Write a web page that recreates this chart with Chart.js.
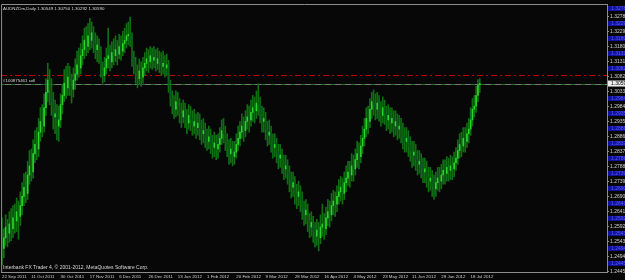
<!DOCTYPE html>
<html>
<head>
<meta charset="utf-8">
<script src="https://cdn.jsdelivr.net/npm/chart.js@4"></script>
<style>
  html, body { margin: 0; padding: 0; background: #000; }
  canvas { display: block; }
</style>
</head>
<body>
<canvas id="chart" width="625" height="280"></canvas>
<script>
// AUDNZDm daily bars (one entry per bar, oldest first)
const closes = [
  1.2520, 1.2555, 1.2590, 1.2570, 1.2600, 1.2585, 1.2620, 1.2610, 1.2640, 1.2625,
  1.2660, 1.2690, 1.2720, 1.2700, 1.2760, 1.2790, 1.2770, 1.2830, 1.2860, 1.2845,
  1.2900, 1.2935, 1.2920, 1.2980, 1.3030, 1.3070, 1.3040, 1.3000, 1.2950, 1.2960,
  1.2920, 1.2940, 1.2990, 1.3020, 1.3060, 1.3045, 1.3080, 1.3050, 1.3040, 1.3070,
  1.3090, 1.3120, 1.3110, 1.3150, 1.3170, 1.3200, 1.3180, 1.3215, 1.3200, 1.3225,
  1.3190, 1.3170, 1.3185, 1.3160, 1.3100, 1.3085, 1.3110, 1.3140, 1.3150, 1.3130,
  1.3160, 1.3150, 1.3170, 1.3155, 1.3180, 1.3165, 1.3190, 1.3200, 1.3215, 1.3220,
  1.3205, 1.3140, 1.3120, 1.3090, 1.3075, 1.3100, 1.3080, 1.3110, 1.3125, 1.3140,
  1.3130, 1.3150, 1.3135, 1.3145, 1.3125, 1.3140, 1.3130, 1.3115, 1.3125, 1.3110,
  1.3120, 1.3050, 1.3010, 1.2990, 1.2975, 1.3000, 1.2985, 1.2960, 1.2950, 1.2970,
  1.2945, 1.2930, 1.2955, 1.2940, 1.2920, 1.2935, 1.2915, 1.2930, 1.2910, 1.2895,
  1.2905, 1.2880, 1.2870, 1.2885, 1.2860, 1.2850, 1.2865, 1.2845, 1.2860, 1.2880,
  1.2905, 1.2895, 1.2870, 1.2850, 1.2830, 1.2845, 1.2820, 1.2835, 1.2860, 1.2880,
  1.2900, 1.2920, 1.2905, 1.2935, 1.2950, 1.2940, 1.2965, 1.2980, 1.2970, 1.2995,
  1.2990, 1.2960, 1.2935, 1.2945, 1.2910, 1.2890, 1.2900, 1.2870, 1.2850, 1.2860,
  1.2835, 1.2815, 1.2825, 1.2800, 1.2780, 1.2790, 1.2765, 1.2745, 1.2720, 1.2735,
  1.2700, 1.2690, 1.2705, 1.2680, 1.2650, 1.2630, 1.2645, 1.2610, 1.2590, 1.2605,
  1.2575, 1.2560, 1.2580, 1.2555, 1.2590, 1.2600, 1.2585, 1.2620, 1.2640, 1.2630,
  1.2660, 1.2675, 1.2665, 1.2690, 1.2705, 1.2720, 1.2700, 1.2735, 1.2750, 1.2770,
  1.2760, 1.2790, 1.2780, 1.2810, 1.2830, 1.2820, 1.2855, 1.2880, 1.2910, 1.2945,
  1.2935, 1.2975, 1.3000, 1.2990, 1.2975, 1.2995, 1.2970, 1.2955, 1.2980, 1.2960,
  1.2940, 1.2955, 1.2930, 1.2945, 1.2920, 1.2935, 1.2910, 1.2920, 1.2900, 1.2885,
  1.2870, 1.2880, 1.2855, 1.2840, 1.2825, 1.2835, 1.2810, 1.2795, 1.2805, 1.2785,
  1.2770, 1.2780, 1.2755, 1.2740, 1.2750, 1.2725, 1.2715, 1.2735, 1.2750, 1.2740,
  1.2760, 1.2775, 1.2765, 1.2785, 1.2775, 1.2790, 1.2780, 1.2800, 1.2815, 1.2840,
  1.2860, 1.2855, 1.2880, 1.2870, 1.2895, 1.2910, 1.2940, 1.2975, 1.2985, 1.3020,
  1.3055, 1.30590
];
const highs = [
  1.2620, 1.2585, 1.2630, 1.2615, 1.2640, 1.2650, 1.2660, 1.2665, 1.2685, 1.2675,
  1.2705, 1.2735, 1.2765, 1.2770, 1.2805, 1.2840, 1.2845, 1.2875, 1.2905, 1.2915,
  1.2945, 1.2980, 1.2990, 1.3025, 1.3075, 1.3125, 1.3105, 1.3075, 1.3030, 1.3005,
  1.2990, 1.2985, 1.3025, 1.3055, 1.3105, 1.3115, 1.3125, 1.3115, 1.3090, 1.3110,
  1.3140, 1.3165, 1.3175, 1.3190, 1.3215, 1.3240, 1.3245, 1.3255, 1.3272, 1.3260,
  1.3245, 1.3225, 1.3215, 1.3205, 1.3180, 1.3130, 1.3145, 1.3175, 1.3240, 1.3185,
  1.3195, 1.3205, 1.3215, 1.3200, 1.3220, 1.3215, 1.3230, 1.3240, 1.3255, 1.3260,
  1.3276, 1.3225, 1.3165, 1.3145, 1.3120, 1.3140, 1.3130, 1.3145, 1.3160, 1.3175,
  1.3170, 1.3180, 1.3175, 1.3180, 1.3170, 1.3175, 1.3165, 1.3160, 1.3165, 1.3150,
  1.3155, 1.3135, 1.3070, 1.3035, 1.3020, 1.3035, 1.3030, 1.3010, 1.2995, 1.3005,
  1.2995, 1.2975, 1.2990, 1.2985, 1.2970, 1.2975, 1.2960, 1.2965, 1.2960, 1.2940,
  1.2945, 1.2930, 1.2910, 1.2920, 1.2910, 1.2890, 1.2900, 1.2890, 1.2895, 1.2915,
  1.2940, 1.2945, 1.2920, 1.2895, 1.2875, 1.2880, 1.2870, 1.2870, 1.2895, 1.2920,
  1.2935, 1.2960, 1.2950, 1.2970, 1.2990, 1.2985, 1.3005, 1.3020, 1.3015, 1.3035,
  1.3058, 1.3015, 1.2985, 1.2980, 1.2965, 1.2935, 1.2940, 1.2920, 1.2895, 1.2895,
  1.2880, 1.2860, 1.2860, 1.2845, 1.2825, 1.2825, 1.2810, 1.2790, 1.2770, 1.2770,
  1.2755, 1.2730, 1.2740, 1.2725, 1.2705, 1.2675, 1.2680, 1.2665, 1.2635, 1.2640,
  1.2625, 1.2605, 1.2615, 1.2605, 1.2630, 1.2665, 1.2635, 1.2655, 1.2680, 1.2675,
  1.2700, 1.2710, 1.2705, 1.2725, 1.2745, 1.2755, 1.2750, 1.2770, 1.2790, 1.2805,
  1.2805, 1.2830, 1.2825, 1.2845, 1.2870, 1.2865, 1.2890, 1.2920, 1.2945, 1.2980,
  1.2985, 1.3010, 1.3030, 1.3038, 1.3025, 1.3030, 1.3020, 1.3000, 1.3015, 1.3005,
  1.2985, 1.2990, 1.2980, 1.2980, 1.2970, 1.2970, 1.2960, 1.2955, 1.2945, 1.2930,
  1.2915, 1.2915, 1.2905, 1.2885, 1.2870, 1.2870, 1.2860, 1.2840, 1.2840, 1.2830,
  1.2815, 1.2815, 1.2805, 1.2785, 1.2785, 1.2775, 1.2760, 1.2770, 1.2785, 1.2785,
  1.2795, 1.2810, 1.2810, 1.2820, 1.2815, 1.2825, 1.2820, 1.2835, 1.2850, 1.2875,
  1.2895, 1.2900, 1.2915, 1.2915, 1.2930, 1.2945, 1.2980, 1.3010, 1.3020, 1.3050,
  1.3072, 1.30750
];
const lows = [
  1.2466, 1.2490, 1.2530, 1.2525, 1.2540, 1.2545, 1.2555, 1.2570, 1.2575, 1.2550,
  1.2595, 1.2630, 1.2660, 1.2670, 1.2680, 1.2730, 1.2740, 1.2750, 1.2800, 1.2810,
  1.2820, 1.2870, 1.2885, 1.2900, 1.2955, 1.3000, 1.2990, 1.2955, 1.2910, 1.2895,
  1.2875, 1.2870, 1.2915, 1.2960, 1.3000, 1.3010, 1.3020, 1.3020, 1.2995, 1.3015,
  1.3040, 1.3070, 1.3080, 1.3090, 1.3120, 1.3140, 1.3150, 1.3160, 1.3170, 1.3175,
  1.3160, 1.3140, 1.3130, 1.3125, 1.3080, 1.3060, 1.3065, 1.3090, 1.3110, 1.3100,
  1.3110, 1.3120, 1.3130, 1.3120, 1.3140, 1.3135, 1.3150, 1.3160, 1.3175, 1.3185,
  1.3180, 1.3115, 1.3090, 1.3060, 1.3045, 1.3055, 1.3050, 1.3060, 1.3085, 1.3100,
  1.3095, 1.3110, 1.3105, 1.3110, 1.3100, 1.3105, 1.3095, 1.3085, 1.3090, 1.3080,
  1.3085, 1.3030, 1.2985, 1.2960, 1.2945, 1.2950, 1.2955, 1.2930, 1.2915, 1.2930,
  1.2915, 1.2895, 1.2910, 1.2905, 1.2890, 1.2895, 1.2880, 1.2890, 1.2875, 1.2860,
  1.2865, 1.2850, 1.2840, 1.2845, 1.2830, 1.2815, 1.2820, 1.2810, 1.2815, 1.2835,
  1.2860, 1.2865, 1.2840, 1.2820, 1.2795, 1.2800, 1.2790, 1.2795, 1.2815, 1.2840,
  1.2855, 1.2880, 1.2870, 1.2885, 1.2910, 1.2900, 1.2920, 1.2935, 1.2930, 1.2945,
  1.2955, 1.2930, 1.2900, 1.2900, 1.2875, 1.2855, 1.2860, 1.2835, 1.2815, 1.2820,
  1.2800, 1.2780, 1.2785, 1.2765, 1.2745, 1.2750, 1.2730, 1.2705, 1.2685, 1.2690,
  1.2665, 1.2650, 1.2660, 1.2640, 1.2615, 1.2595, 1.2600, 1.2575, 1.2555, 1.2560,
  1.2540, 1.2525, 1.2530, 1.2512, 1.2535, 1.2560, 1.2550, 1.2565, 1.2595, 1.2590,
  1.2610, 1.2630, 1.2625, 1.2640, 1.2665, 1.2675, 1.2665, 1.2680, 1.2705, 1.2725,
  1.2720, 1.2740, 1.2740, 1.2760, 1.2785, 1.2780, 1.2800, 1.2830, 1.2855, 1.2885,
  1.2895, 1.2915, 1.2945, 1.2955, 1.2940, 1.2945, 1.2935, 1.2920, 1.2930, 1.2925,
  1.2905, 1.2910, 1.2895, 1.2900, 1.2885, 1.2890, 1.2875, 1.2880, 1.2865, 1.2845,
  1.2835, 1.2835, 1.2820, 1.2805, 1.2785, 1.2790, 1.2775, 1.2760, 1.2765, 1.2750,
  1.2735, 1.2735, 1.2720, 1.2705, 1.2710, 1.2690, 1.2680, 1.2690, 1.2710, 1.2705,
  1.2715, 1.2730, 1.2730, 1.2740, 1.2740, 1.2745, 1.2745, 1.2755, 1.2775, 1.2795,
  1.2815, 1.2820, 1.2835, 1.2835, 1.2850, 1.2865, 1.2890, 1.2920, 1.2950, 1.2965,
  1.3000, 1.30292
];
const firstOpen = 1.2560;
const lastOpen = 1.30549;

const dateTicks = [
  '22 Sep 2011', '11 Oct 2011', '30 Oct 2011', '17 Nov 2011', '6 Dec 2011',
  '26 Dec 2011', '13 Jan 2012', '1 Feb 2012', '20 Feb 2012', '9 Mar 2012',
  '28 Mar 2012', '16 Apr 2012', '4 May 2012', '23 May 2012', '11 Jun 2012',
  '29 Jun 2012', '18 Jul 2012'
];
const barsPerDateTick = 16;
const slotCount = 331; // visible bar slots incl. empty space on the right

const priceTicks = [
  1.32780, 1.32290, 1.31800, 1.31310, 1.30820, 1.30330, 1.29840, 1.29350, 1.28860,
  1.28370, 1.27880, 1.27390, 1.26900, 1.26410, 1.25920, 1.25430, 1.24940, 1.24450
];
const priceMin = 1.2443;
const priceMax = 1.3319;

const bidPrice = 1.30590;
const stopPrice = 1.30875;
const orderPrice = 1.30562;
const orderLabel = '#100875461 sell';
const titleText = 'AUDNZDm,Daily 1.30549 1.30750 1.30292 1.30590';
const footerText = 'Interbank FX Trader 4, \u00a9 2001-2012, MetaQuotes Software Corp.';

// ---- build ----
const opens = closes.map((c, i) => (i === 0 ? firstOpen : closes[i - 1]));
opens[opens.length - 1] = lastOpen;

const labels = Array.from({ length: slotCount }, (_, i) =>
  i % barsPerDateTick === 0 && dateTicks[i / barsPerDateTick] ? dateTicks[i / barsPerDateTick] : ''
);
const bodyColors = closes.map((c, i) => (c >= opens[i] ? '#2ad42a' : '#0c5a1c'));

const FONT = 'Liberation Sans';
const axisGray = '#8c8c8c';

const mtPlugin = {
  id: 'mt4',
  beforeDraw(chart) {
    const { ctx } = chart;
    ctx.save();
    ctx.fillStyle = '#070707';
    ctx.fillRect(0, 0, chart.width, chart.height);
    ctx.restore();
  },
  beforeDatasetsDraw(chart) {
    const { ctx, chartArea: a, scales: { y } } = chart;
    ctx.save();
    const line = (price, color, dash) => {
      const py = Math.round(y.getPixelForValue(price)) + 0.5;
      ctx.strokeStyle = color;
      ctx.lineWidth = 1;
      ctx.setLineDash(dash);
      ctx.beginPath();
      ctx.moveTo(a.left, py);
      ctx.lineTo(a.right, py);
      ctx.stroke();
    };
    line(stopPrice, '#c40000', [6, 3, 2, 3]);
    line(bidPrice, '#7a7a7a', []);
    line(orderPrice, '#1a7a1a', [4, 6]);
    ctx.restore();
  },
  afterDraw(chart) {
    const { ctx, chartArea: a, scales: { y } } = chart;
    ctx.save();
    // frame on the left/top (right & bottom come from the axes)
    ctx.strokeStyle = axisGray;
    ctx.lineWidth = 1;
    ctx.beginPath();
    ctx.moveTo(a.left + 0.5, a.bottom);
    ctx.lineTo(a.left + 0.5, a.top + 0.5);
    ctx.lineTo(a.right, a.top + 0.5);
    ctx.stroke();

    ctx.textBaseline = 'middle';
    ctx.textAlign = 'left';
    ctx.fillStyle = '#d8d8d8';
    ctx.font = `4.4px "${FONT}"`;
    ctx.fillText(titleText, a.left + 2, a.top + 5);
    ctx.fillText(orderLabel, a.left + 2, y.getPixelForValue(orderPrice) - 4);
    ctx.font = `5px "${FONT}"`;
    ctx.fillText(footerText, a.left + 2, a.bottom - 4);

    // blue label boxes sitting above each price label
    priceTicks.forEach((p) => {
      const py = y.getPixelForValue(p);
      ctx.fillStyle = '#1212a0';
      ctx.fillRect(a.right + 1, py - 10.5, chart.width - a.right, 5);
      ctx.fillStyle = '#5a5af0';
      ctx.fillText(p.toFixed(5), a.right + 4, py - 8);
    });

    // current bid box
    const by = y.getPixelForValue(bidPrice);
    ctx.fillStyle = '#ececec';
    ctx.fillRect(a.right + 1, by - 3, chart.width - a.right, 6);
    ctx.fillStyle = '#000';
    ctx.fillText(bidPrice.toFixed(5), a.right + 4, by);
    ctx.restore();
  },
};

new Chart(document.getElementById('chart'), {
  type: 'bar',
  data: {
    labels,
    datasets: [
      {
        label: 'body',
        data: closes.map((c, i) => [opens[i], c]),
        backgroundColor: bodyColors,
        barThickness: 1,
        minBarLength: 1,
        grouped: false,
        order: 1,
      },
      {
        label: 'range',
        data: highs.map((h, i) => [lows[i], h]),
        backgroundColor: '#0f6e12',
        barThickness: 1,
        grouped: false,
        order: 2,
      },
    ],
  },
  options: {
    responsive: false,
    animation: false,
    devicePixelRatio: 1,
    layout: { padding: { left: 1, top: 1, right: 0, bottom: 0 } },
    plugins: { legend: { display: false }, tooltip: { enabled: false } },
    scales: {
      x: {
        type: 'category',
        position: 'bottom',
        grid: { display: false, drawTicks: false, tickLength: 0 },
        border: { display: true, color: axisGray },
        afterFit: (s) => { s.height = 8; },
        ticks: {
          autoSkip: false,
          maxRotation: 0,
          align: 'start',
          padding: 2,
          color: '#d0d0d0',
          font: { family: FONT, size: 4.4 },
          callback(value) {
            return this.getLabelForValue(value) || null;
          },
        },
      },
      y: {
        position: 'right',
        min: priceMin,
        max: priceMax,
        afterBuildTicks: (s) => { s.ticks = priceTicks.map((v) => ({ value: v })); },
        afterFit: (s) => { s.width = 18; },
        grid: { display: true, drawOnChartArea: false, tickLength: 2, color: axisGray },
        border: { display: true, color: axisGray },
        ticks: {
          padding: 1,
          color: '#d0d0d0',
          font: { family: FONT, size: 5 },
          callback: (v) => Number(v).toFixed(5),
        },
      },
    },
  },
  plugins: [mtPlugin],
});
</script>
</body>
</html>
